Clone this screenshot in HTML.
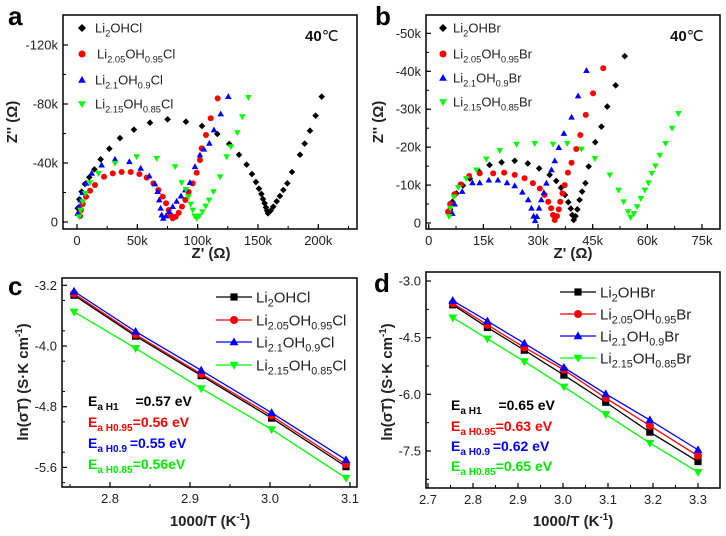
<!DOCTYPE html>
<html><head><meta charset="utf-8"><style>
html,body{margin:0;padding:0;background:#fff;}
svg{display:block;font-family:"Liberation Sans",Arial,sans-serif;}
</style></head><body>
<svg id="fig" width="726" height="536" viewBox="0 0 726 536" xmlns="http://www.w3.org/2000/svg"></svg>
<script>
// ---------- DATA ----------
// Panel a: Nyquist Li2OHCl family, Z' (kΩ) and -Z'' (kΩ)
const aBlackX=[0.6,1.9,3.9,6.6,10.2,14.4,19.6,26.8,35.6,47.2,60.5,75.1,90.3,103.6,116.3,126.2,134.3,140.6,145.0,148.3,150.8,152.8,154.1,155.5,156.6,157.5,158.3,160.5,162.7,165.5,168.2,171.0,174.3,178.2,184.8,188.7,193.1,197.8,202.8];
const aBlackY=[9.3,15.4,20.6,25.8,30.3,35.7,42.5,49.7,56.9,62.6,67.3,69.6,68.0,65.1,59.7,52.9,45.6,38.9,32.5,27.1,22.6,19.0,15.6,12.7,9.9,7.7,5.9,7.7,10.4,14.0,17.6,21.7,26.2,33.9,45.6,53.1,61.9,72.1,85.0];
const aRedX=[2.5,3.3,4.7,7.5,10.8,14.9,22.4,29.6,37.0,44.5,51.7,57.7,63.3,67.4,71.0,73.8,76.0,77.6,79.3,81.8,84.3,87.0,89.8,92.5,95.9,99.2,101.9,103.3,106.9,110.8,116.6];
const aRedY=[4.1,8.1,12.2,17.2,21.2,25.1,30.7,33.0,33.9,33.9,32.5,30.1,26.2,21.7,17.2,12.7,8.1,4.7,2.5,3.6,6.3,10.4,14.9,20.3,26.2,33.4,42.0,49.9,59.0,70.3,83.8];
const aBlueX=[0.6,1.7,3.0,4.7,7.5,12.2,20.4,31.5,43.4,52.8,59.9,64.6,66.9,68.2,69.3,70.2,71.5,73.8,76.5,79.3,82.6,86.2,89.8,93.6,97.8,101.9,105.2,109.7,113.5,119.1,125.4];
const aBlueY=[5.9,10.4,14.9,19.9,26.2,33.0,38.6,42.5,40.9,36.4,31.2,25.8,20.6,14.9,9.3,4.7,2.5,4.1,7.0,10.4,14.0,17.6,21.7,26.7,37.5,45.4,49.3,53.3,62.4,73.2,85.0];
const aGreenX=[1.9,3.0,4.7,6.9,10.8,17.7,31.5,49.4,66.0,81.2,86.7,90.3,92.3,94.2,95.9,97.5,99.2,101.4,103.9,106.6,109.4,113.0,118.5,124.0,127.6,132.9,137.0,142.0];
const aGreenY=[3.6,8.1,13.8,19.4,26.7,33.0,39.8,44.3,43.2,37.5,26.7,22.1,17.2,12.2,8.1,4.1,2.5,4.1,7.0,10.8,14.9,20.6,30.7,44.3,51.1,60.6,71.4,84.5];
// Panel b: Nyquist Li2OHBr family (kΩ)
const bBlackX=[5.9,6.5,7.6,9.4,11.3,13.8,16.7,20.0,23.6,27.2,30.3,33.2,35.0,36.3,37.4,38.3,39.0,39.4,39.8,40.3,40.8,41.4,42.1,43.0,43.9,45.7,47.4,49.0,51.3,53.8];
const bBlackY=[3.6,5.6,7.8,9.9,11.7,13.6,15.3,16.0,16.4,15.7,14.4,12.7,11.1,9.3,7.4,5.5,3.8,2.1,0.8,1.8,3.6,6.1,8.3,10.5,14.9,21.3,25.4,30.7,36.3,44.0];
const bRedX=[5.3,5.9,7.1,8.8,11.1,14.0,17.7,20.7,23.6,26.3,28.6,30.5,31.8,32.8,33.6,34.1,34.6,35.2,35.7,36.1,36.7,37.3,38.2,39.2,40.5,41.6,43.1,45.1,47.9];
const bRedY=[3.0,5.0,7.6,10.2,12.4,13.1,13.1,13.3,12.7,11.8,10.5,9.1,7.4,5.6,3.9,2.1,0.8,1.8,3.6,5.6,7.8,10.0,13.3,15.9,19.5,23.2,28.5,34.2,40.8];
const bBlueX=[6.5,7.1,9.2,12.0,14.0,16.5,19.0,21.5,23.6,25.7,27.3,28.2,28.8,29.2,29.7,30.3,30.9,31.6,32.3,33.7,34.6,35.7,37.1,39.2,41.0,43.3];
const bBlueY=[2.5,5.0,8.3,10.6,10.6,11.3,11.3,10.6,9.8,8.1,6.1,3.9,1.8,0.6,1.7,3.9,6.1,8.0,10.5,14.0,16.4,19.9,23.6,27.9,33.5,40.2];
const bGreenX=[5.6,5.9,6.9,8.1,10.3,13.1,15.8,19.5,24.1,29.1,34.1,38.0,41.9,45.6,49.7,52.1,53.5,54.7,55.4,56.3,57.2,58.2,59.3,60.3,61.2,62.2,63.4,65.0,66.8,68.5];
const bGreenY=[1.7,3.9,6.9,9.4,11.8,14.0,16.9,19.1,20.8,21.0,20.8,21.0,19.5,17.0,12.7,8.7,5.6,3.0,1.5,2.5,4.3,6.5,8.7,10.6,13.1,15.1,17.9,21.0,25.0,28.9];
// Panel c: Arrhenius Cl
const cX=[2.755,2.832,2.914,3.002,3.095];
const cBlack=[-3.33,-3.87,-4.39,-4.95,-5.59];
const cRed=[-3.31,-3.85,-4.37,-4.92,-5.56];
const cBlue=[-3.28,-3.81,-4.32,-4.88,-5.50];
const cGreen=[-3.55,-4.03,-4.56,-5.10,-5.74];
const cXTicks=[2.8,2.9,3.0,3.1];
const cYTicks=[-3.2,-4.0,-4.8,-5.6];
// Panel d: Arrhenius Br
const dX=[2.755,2.832,2.914,3.002,3.095,3.193,3.300];
const dBlack=[-3.63,-4.23,-4.83,-5.49,-6.21,-7.00,-7.78];
const dRed=[-3.59,-4.16,-4.76,-5.35,-6.10,-6.83,-7.63];
const dBlue=[-3.52,-4.06,-4.65,-5.29,-5.99,-6.68,-7.47];
const dGreen=[-3.97,-4.53,-5.13,-5.80,-6.53,-7.29,-8.06];
const dXTicks=[2.7,2.8,2.9,3.0,3.1,3.2,3.3];
const dYTicks=[-3.0,-4.5,-6.0,-7.5];
const aXTicks=[0,50,100,150,200];
const aYTicks=[0,40,80,120];
const bXTicks=[0,15,30,45,60,75];
const bYTicks=[0,10,20,30,40,50];

// ---------- HELPERS ----------
const NS="http://www.w3.org/2000/svg";
const svg=document.getElementById('fig');
function mk(tag,attrs,parent){const e=document.createElementNS(NS,tag);for(const k in attrs)e.setAttribute(k,attrs[k]);(parent||svg).appendChild(e);return e;}
function scale(d0,d1,r0,r1){return v=>r0+(v-d0)*(r1-r0)/(d1-d0);}
const COL={black:'#000',red:'#ff0000',blue:'#0000ff',green:'#00ff00'};
function marker(g,shape,x,y,s,color){
  let e;
  if(shape==='diamond'){e=mk('polygon',{points:`${x},${y-s} ${x+s},${y} ${x},${y+s} ${x-s},${y}`,fill:color},g);}
  else if(shape==='circle'){e=mk('circle',{cx:x,cy:y,r:s,fill:color},g);}
  else if(shape==='square'){e=mk('rect',{x:x-s,y:y-s,width:2*s,height:2*s,fill:color},g);}
  else if(shape==='up'){e=mk('polygon',{points:`${x},${y-s*1.15} ${x+s*1.1},${y+s*0.8} ${x-s*1.1},${y+s*0.8}`,fill:color},g);}
  else {e=mk('polygon',{points:`${x},${y+s*1.15} ${x+s*1.1},${y-s*0.8} ${x-s*1.1},${y-s*0.8}`,fill:color},g);}
  return e;
}
function frame(g,L,T,R,B){
  const r=mk('rect',{x:L,y:T,width:R-L,height:B-T,fill:'none',stroke:'#000','stroke-width':1.5},g);
  
  
}
function axes(g,L,T,R,B,sx,sy,xt,yt,xfmt,yfmt,xminor,yminor,xmin,xmax,ymin,ymax){
  const xg=mk('g',{},g);
  
  
  const yg=mk('g',{},g);
  
  
  xt.forEach(v=>{const x=sx(v);mk('line',{x1:x,y1:B,x2:x,y2:B-5,stroke:'#000','stroke-width':1.2},xg);
    const t=mk('text',{x:x,y:B+16,'text-anchor':'middle','font-size':13,fill:'#222'},xg);t.textContent=xfmt(v);
    
    });
  for(let v=xmin;v<=xmax+1e-9;v+=xminor){const x=sx(v);if(x>L+1&&x<R-1)mk('line',{x1:x,y1:B,x2:x,y2:B-3,stroke:'#000','stroke-width':1},xg);}
  yt.forEach(v=>{const y=sy(v);mk('line',{x1:L,y1:y,x2:L+5,y2:y,stroke:'#000','stroke-width':1.2},yg);
    const t=mk('text',{x:L-5,y:y+4.5,'text-anchor':'end','font-size':13,fill:'#222'},yg);t.textContent=yfmt(v);
    
    });
  for(let v=ymin;v<=ymax+1e-9;v+=yminor){const y=sy(v);if(y>T+1&&y<B-1)mk('line',{x1:L,y1:y,x2:L+3,y2:y,stroke:'#000','stroke-width':1},yg);}
}
function richText(parent,x,y,parts,attrs){
  const t=mk('text',Object.assign({x:x,y:y},attrs),parent);
  let sub=false;
  parts.forEach(p=>{
    const ts=mk('tspan',{},t);
    if(p[1]==='s'){ts.setAttribute('font-size','0.72em');if(!sub){ts.setAttribute('dy','4');sub=true;}}
    else if(p[1]==='u'){ts.setAttribute('font-size','0.65em');ts.setAttribute('dy','-6');sub='up';}
    else{if(sub===true)ts.setAttribute('dy','-4');if(sub==='up')ts.setAttribute('dy','6');sub=false;}
    ts.textContent=p[0];
  });
  return t;
}
function panelLetter(x,y,ch){const t=mk('text',{x:x,y:y,'font-size':26,'font-weight':'bold',fill:'#000'});t.textContent=ch;
  
  }
function yTitle(x,y,parts){const g=mk('g',{transform:`translate(${x},${y}) rotate(-90)`});
  
  
  richText(g,0,0,parts,{'text-anchor':'middle','font-size':15,'font-weight':'bold',fill:'#222'});}
function xTitle(x,y,parts){const g=mk('g',{});
  
  
  richText(g,x,y,parts,{'text-anchor':'middle','font-size':15,'font-weight':'bold',fill:'#222'});}

// ---------- PANEL A ----------
(function(){
  const g=mk('g',{});
  
  
  const L=63,T=15,R=357,B=229;
  const sx=scale(0,200,77,318.3), sy=scale(0,120,222,45);
  frame(g,L,T,R,B);
  axes(g,L,T,R,B,sx,sy,aXTicks,aYTicks,v=>v===0?'0':v+'k',v=>v===0?'0':'-'+v+'k',25,20,0,225,0,140);
  const series=[[aBlackX,aBlackY,'diamond','black',3.3],[aRedX,aRedY,'circle','red',3],[aBlueX,aBlueY,'up','blue',3],[aGreenX,aGreenY,'down','green',3]];
  series.forEach(s=>{const sg=mk('g',{},g);
    
    
    s[0].forEach((x,i)=>marker(sg,s[2],sx(x),sy(s[1][i]),s[4],COL[s[3]]));});
  const lg=mk('g',{},g);
  
  
  const labs=[[['Li'],['2','s'],['OHCl']],[['Li'],['2.05','s'],['OH'],['0.95','s'],['Cl']],[['Li'],['2.1','s'],['OH'],['0.9','s'],['Cl']],[['Li'],['2.15','s'],['OH'],['0.85','s'],['Cl']]];
  const shapes=['diamond','circle','up','down'],cols=['black','red','blue','green'],ys=[28,54,80,104];
  labs.forEach((p,i)=>{const e=mk('g',{},lg);
    
    
    marker(e,shapes[i],82,ys[i],i===0?4:3.5,COL[cols[i]]);
    richText(e,i===1?97:95,ys[i]+4.5,p,{'font-size':13,fill:'#222'});});
  const t=mk('text',{x:305,y:41,'font-size':15,fill:'#111'},g);
  
  
  const b=mk('tspan',{'font-weight':'bold'},t);b.textContent='40';const c=mk('tspan',{},t);c.textContent='℃';
})();
panelLetter(8,25,'a');
yTitle(17,122,[["Z'' (Ω)"]]);
xTitle(211,258,[["Z' (Ω)"]]);

// ---------- PANEL B ----------
(function(){
  const g=mk('g',{});
  
  
  const L=426,T=15,R=720,B=229;
  const sx=scale(0,75,428.7,702), sy=scale(0,50,223,33.4);
  frame(g,L,T,R,B);
  axes(g,L,T,R,B,sx,sy,bXTicks,bYTicks,v=>v===0?'0':v+'k',v=>v===0?'0':'-'+v+'k',7.5,5,0,78,0,54);
  const series=[[bBlackX,bBlackY,'diamond','black',3.3],[bRedX,bRedY,'circle','red',3],[bBlueX,bBlueY,'up','blue',3],[bGreenX,bGreenY,'down','green',3]];
  series.forEach(s=>{const sg=mk('g',{},g);
    
    
    s[0].forEach((x,i)=>marker(sg,s[2],sx(x),sy(s[1][i]),s[4],COL[s[3]]));});
  const lg=mk('g',{},g);
  
  
  const labs=[[['Li'],['2','s'],['OHBr']],[['Li'],['2.05','s'],['OH'],['0.95','s'],['Br']],[['Li'],['2.1','s'],['OH'],['0.9','s'],['Br']],[['Li'],['2.15','s'],['OH'],['0.85','s'],['Br']]];
  const shapes=['diamond','circle','up','down'],cols=['black','red','blue','green'],ys=[28,54,78,102];
  labs.forEach((p,i)=>{const e=mk('g',{},lg);
    
    
    marker(e,shapes[i],443,ys[i],i===0?4:3.5,COL[cols[i]]);
    richText(e,453,ys[i]+4.5,p,{'font-size':13,fill:'#222'});});
  const t=mk('text',{x:670,y:41,'font-size':15,fill:'#111'},g);
  
  
  const b=mk('tspan',{'font-weight':'bold'},t);b.textContent='40';const c=mk('tspan',{},t);c.textContent='℃';
})();
panelLetter(375,25,'b');
yTitle(383,122,[["Z'' (Ω)"]]);
xTitle(573,258,[["Z' (Ω)"]]);

// ---------- ARRHENIUS PANELS ----------
function arrhenius(name,L,T,R,B,sx,sy,xs,sets,xt,yt,xmin,xmax,ymin,ymax,xminor,yminor,legX,legYs,labs,annX,annYs,anns){
  const g=mk('g',{});
  
  
  frame(g,L,T,R,B);
  axes(g,L,T,R,B,sx,sy,xt,yt,v=>v.toFixed(1),v=>v.toFixed(1),xminor,yminor,xmin,xmax,ymin,ymax);
  const shapes=['square','circle','up','down'],cols=['black','red','blue','green'];
  sets.forEach((ys,k)=>{const sg=mk('g',{},g);
    
    
    const pts=xs.map((x,i)=>sx(x)+','+sy(ys[i])).join(' ');
    mk('polyline',{points:pts,fill:'none',stroke:COL[cols[k]],'stroke-width':1.3},sg);
    xs.forEach((x,i)=>marker(sg,shapes[k],sx(x),sy(ys[i]),k===0?3.6:4,COL[cols[k]]));});
  const lg=mk('g',{},g);
  
  
  labs.forEach((p,i)=>{const e=mk('g',{},lg);
    
    
    mk('line',{x1:legX,y1:legYs[i],x2:legX+36,y2:legYs[i],stroke:COL[cols[i]],'stroke-width':1.3},e);
    marker(e,shapes[i],legX+18,legYs[i],i===0?3.6:4,COL[cols[i]]);
    richText(e,legX+40,legYs[i]+5.5,p,{'font-size':15,fill:'#222'});});
  const ag=mk('g',{},g);
  
  
  anns.forEach((p,i)=>{richText(ag,annX,annYs[i],p,{'font-size':14,'font-weight':'bold',fill:['#000','#ff0000','#0000ff','#00ee00'][i]});});
}
const SP='\u00a0';
arrhenius('panel-c-arrhenius-cl',62,278,357,487,scale(2.8,3.0,110,270),scale(-4.0,-4.8,346,406.7),cX,[cBlack,cRed,cBlue,cGreen],cXTicks,cYTicks,2.75,3.1,-5.8,-3.2,0.05,0.4,
  216,[297,320,342,365],
  [[['Li'],['2','s'],['OHCl']],[['Li'],['2.05','s'],['OH'],['0.95','s'],['Cl']],[['Li'],['2.1','s'],['OH'],['0.9','s'],['Cl']],[['Li'],['2.15','s'],['OH'],['0.85','s'],['Cl']]],
  88,[406,427,448,469],
  [[['E'],['a H1'+SP+SP+SP+SP+SP+SP,'s'],['=0.57 eV']],[['E'],['a H0.95','s'],['=0.56 eV']],[['E'],['a H0.9'+SP,'s'],['=0.55 eV']],[['E'],['a H0.85','s'],['=0.56eV']]]);
arrhenius('panel-d-arrhenius-br',426,272,720,488,scale(2.7,3.3,428,698),scale(-3.0,-7.5,281,451),dX,[dBlack,dRed,dBlue,dGreen],dXTicks,dYTicks,2.7,3.35,-8.25,-3.0,0.05,0.75,
  560,[292,314,336,358],
  [[['Li'],['2','s'],['OHBr']],[['Li'],['2.05','s'],['OH'],['0.95','s'],['Br']],[['Li'],['2.1','s'],['OH'],['0.9','s'],['Br']],[['Li'],['2.15','s'],['OH'],['0.85','s'],['Br']]],
  451,[410,431,451,471],
  [[['E'],['a H1'+SP+SP+SP+SP+SP+SP,'s'],['=0.65 eV']],[['E'],['a H0.95','s'],['=0.63 eV']],[['E'],['a H0.9'+SP,'s'],['=0.62 eV']],[['E'],['a H0.85','s'],['=0.65 eV']]]);
panelLetter(8,295,'c');
panelLetter(374,292,'d');
yTitle(28,382,[['ln(σT) (S·K cm'],['-1','u'],[')']]);
xTitle(210,526,[['1000/T (K'],['-1','u'],[')']]);
yTitle(392,382,[['ln(σT) (S·K cm'],['-1','u'],[')']]);
xTitle(573,526,[['1000/T (K'],['-1','u'],[')']]);
</script>
</body></html>
